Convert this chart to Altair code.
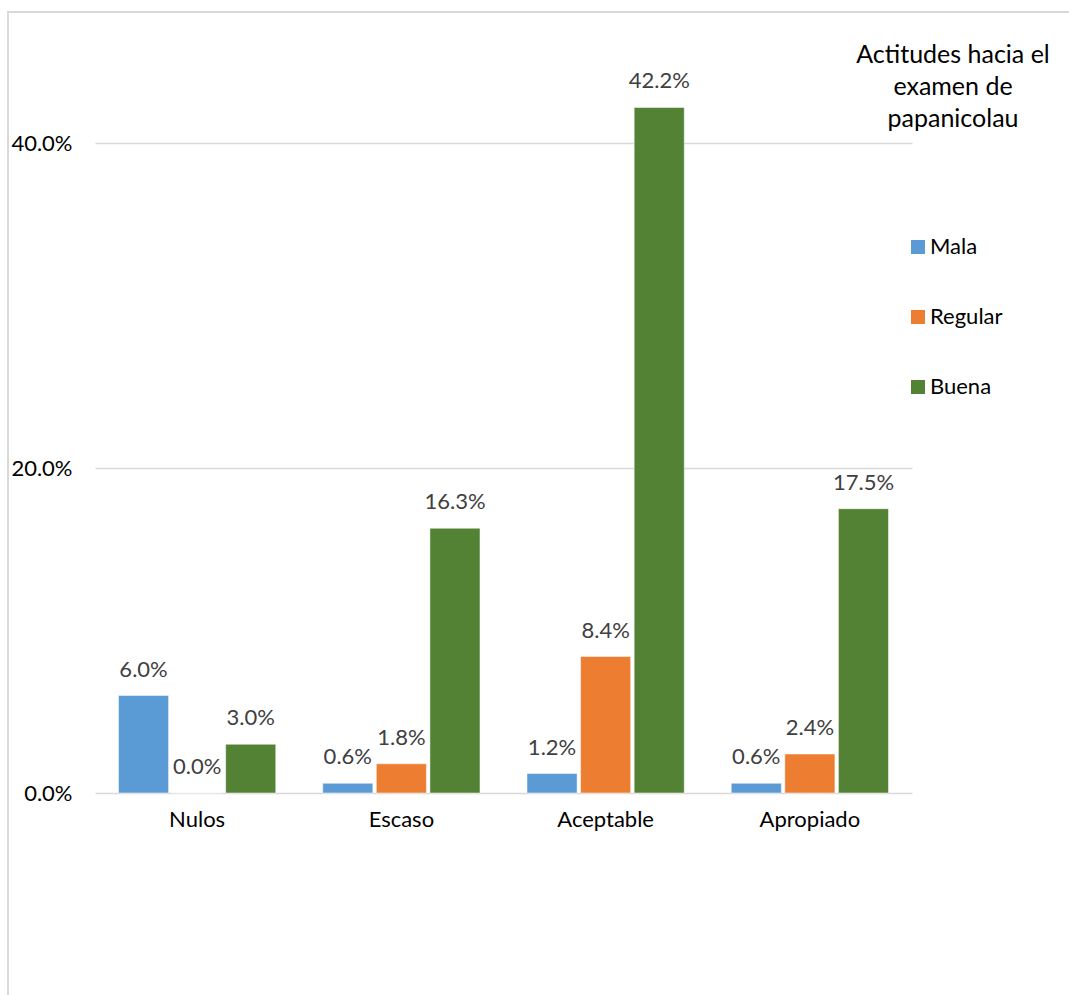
import altair as alt
import pandas as pd

categories = ["Nulos", "Escaso", "Aceptable", "Apropiado"]
series = ["Mala", "Regular", "Buena"]
mala = [0.060, 0.006, 0.012, 0.006]
regular = [0.000, 0.018, 0.084, 0.024]
buena = [0.030, 0.163, 0.422, 0.175]
colors = ["#5B9BD5", "#ED7D31", "#548235"]
y_ticks = [0.0, 0.2, 0.4]
legend_title = "Actitudes hacia el\nexamen de\npapanicolau"

rows = []
for vals, s in zip([mala, regular, buena], series):
    for c, v in zip(categories, vals):
        rows.append({"cat": c, "serie": s, "val": v})
df = pd.DataFrame(rows)

FONT = "Lato"

x_enc = alt.X("cat:N", sort=categories, title=None,
              scale=alt.Scale(paddingInner=0.23, paddingOuter=0.115),
              axis=alt.Axis(labelFontSize=22, labelColor="#000000", labelFont=FONT,
                            labelPadding=16, ticks=False, domain=False, labelAngle=0))
xo_enc = alt.XOffset("serie:N", sort=series, scale=alt.Scale(paddingInner=0.065, paddingOuter=0))
y_enc = alt.Y("val:Q", title=None,
              scale=alt.Scale(domain=[0, 0.45], nice=False),
              axis=alt.Axis(values=y_ticks, format=".1%", labelFontSize=22, labelFont=FONT,
                            labelColor="#000000", labelPadding=23, ticks=False, domain=False,
                            grid=True, gridColor="#d9d9d9", gridWidth=1.5))

bars = alt.Chart(df).mark_bar(stroke="white", strokeWidth=0.5).encode(
    x=x_enc, xOffset=xo_enc, y=y_enc,
    color=alt.Color("serie:N", sort=series,
                    scale=alt.Scale(domain=series, range=colors),
                    legend=alt.Legend(title=None, orient="none",
                                      legendX=812, legendY=174, padding=0,
                                      labelFontSize=22, labelFont=FONT, labelColor="#000000",
                                      symbolType="square", symbolSize=196, symbolStrokeWidth=0,
                                      rowPadding=48, labelOffset=1)),
)

labels = alt.Chart(df).mark_text(fontSize=22, font=FONT, color="#404040",
                                 baseline="alphabetic", dy=-19).encode(
    x=alt.X("cat:N", sort=categories), xOffset=alt.XOffset("serie:N", sort=series),
    y="val:Q", text=alt.Text("val:Q", format=".1%"),
)

title_txt = alt.Chart(alt.Data(values=[{"t": legend_title}])).mark_text(
    fontSize=25, font=FONT, color="#000000", align="center", baseline="top",
    lineBreak="\n", lineHeight=32).encode(
    text="t:N", x=alt.value(858), y=alt.value(-19))

border = alt.Chart(alt.Data(values=[{}])).mark_rect(
    fill=None, stroke="#d9d9d9", strokeWidth=2).encode(
    x=alt.value(-87), x2=alt.value(1100), y=alt.value(-50), y2=alt.value(1000))

chart = alt.layer(border, bars, labels, title_txt).properties(
    width=817, height=731,
    background="white",
    autosize=alt.AutoSizeParams(type="none"),
    padding={"left": 95, "top": 62, "right": 157, "bottom": 202},
).configure_view(strokeWidth=0, stroke=None)

chart.save("out.html", embed_options={"renderer": "svg", "actions": False})
